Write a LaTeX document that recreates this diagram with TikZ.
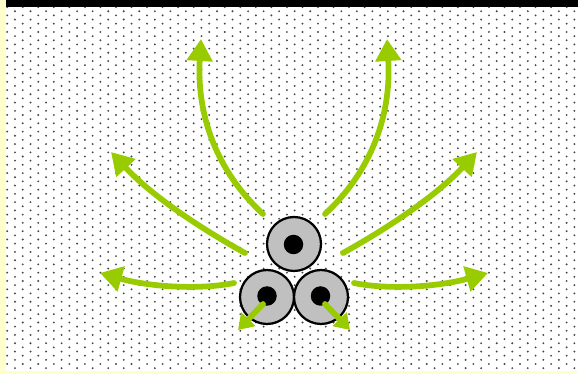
\documentclass[tikz,border=0pt]{standalone}
\usetikzlibrary{arrows.meta}
\definecolor{arrowgreen}{RGB}{153,204,0}
\definecolor{stripyellow}{RGB}{255,255,204}
\definecolor{cellgray}{RGB}{192,192,192}
\definecolor{dotgray}{RGB}{70,70,70}
\tikzset{
  bigarrow/.style={draw=arrowgreen, line width=0.115cm, line cap=round,
    -{Triangle[length=0.44cm,width=0.5cm]}},
  smallarrow/.style={draw=arrowgreen, line width=0.115cm, line cap=round,
    -{Triangle[length=0.3cm,width=0.38cm]}},
  cell/.style={circle, draw=black, line width=0.045cm, fill=cellgray,
    minimum size=1.08cm, inner sep=0pt},
  nucleus/.style={circle, fill=black, minimum size=0.39cm, inner sep=0pt}
}
\begin{document}
\begin{tikzpicture}[x=0.02cm,y=-0.02cm]
\useasboundingbox (0,0) rectangle (578,374);
% background
\fill[white] (0,0) rectangle (578,374);
\begin{scope}
  \clip (6,7.5) rectangle (578,371.5);
  \foreach \i in {0,...,74}{
    \foreach \j in {0,...,45}{
      \pgfmathsetmacro{\xx}{7.2+7.77*\i}
      \pgfmathsetmacro{\yy}{7.1+8.3*\j-4.15*mod(\i,2)}
      \fill[dotgray] (\xx,\yy) circle[radius=1.05];
    }
  }
\end{scope}
\fill[stripyellow] (0,0) rectangle (6,374);
\fill[stripyellow] (6,371.5) rectangle (578,374);
\fill[black] (6,0) rectangle (578,7.3);
% coordinates
\coordinate (s1) at (263,214); \coordinate (t1) at (201,39);
\coordinate (s2) at (325,214); \coordinate (t2) at (387,39);
\coordinate (s3) at (245,253); \coordinate (t3) at (111,152);
\coordinate (s4) at (343,253); \coordinate (t4) at (477,152);
\coordinate (s5) at (234,283); \coordinate (t5) at (100,273);
\coordinate (s6) at (354,283); \coordinate (t6) at (488,273);
\coordinate (s7) at (263,304); \coordinate (t7) at (238,330);
\coordinate (s8) at (325,304); \coordinate (t8) at (350,330);
% big arrows
\draw[bigarrow] (s1) .. controls (210,165) and (197,105) .. (t1);
\draw[bigarrow] (s2) .. controls (378,165) and (391,105) .. (t2);
\draw[bigarrow] (s3) .. controls (200,228) and (152,196) .. (t3);
\draw[bigarrow] (s4) .. controls (388,228) and (436,196) .. (t4);
\draw[bigarrow] (s5) .. controls (200,290) and (150,287) .. (t5);
\draw[bigarrow] (s6) .. controls (388,290) and (438,287) .. (t6);
% cells
\node[cell] (top) at (294,244) {};
\node[cell] (left) at (267,297) {};
\node[cell] (right) at (321,297) {};
\node[nucleus] (ntop) at (293.5,244.5) {};
\node[nucleus] (nleft) at (267,296) {};
\node[nucleus] (nright) at (320.5,296) {};
% small arrows
\draw[smallarrow] (s7) -- (t7);
\draw[smallarrow] (s8) -- (t8);
\end{tikzpicture}
\end{document}
